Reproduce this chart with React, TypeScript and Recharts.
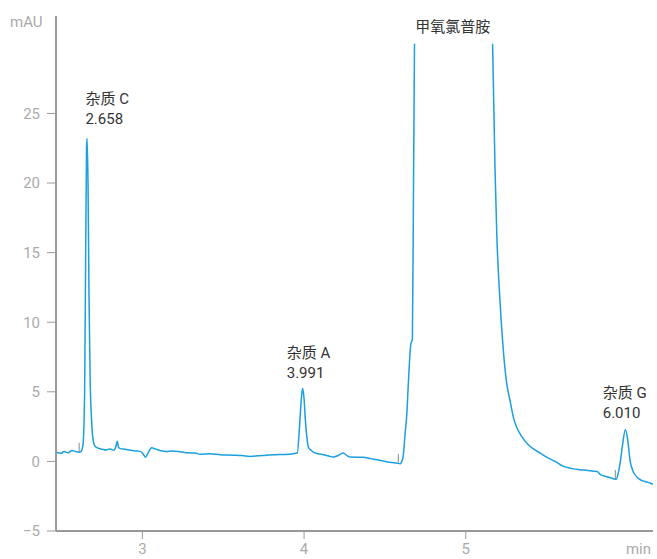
import React from "react";
import { LineChart, Line, XAxis, YAxis, ReferenceDot, ReferenceLine } from "recharts";

// retention time (min) and detector signal (mAU); null = off scale
const times = [
  2.466, 2.497, 2.516, 2.541, 2.565, 2.59, 2.609, 2.621, 2.633, 2.643, 2.649, 2.655, 2.658, 2.664, 2.67,
  2.677, 2.686, 2.695, 2.707, 2.726, 2.751, 2.776, 2.8, 2.825, 2.837, 2.845, 2.853, 2.868, 2.893, 2.924,
  2.955, 2.986, 3.004, 3.02, 3.035, 3.057, 3.079, 3.109, 3.147, 3.184, 3.233, 3.283, 3.326, 3.357, 3.419,
  3.481, 3.561, 3.617, 3.666, 3.716, 3.765, 3.821, 3.883, 3.932, 3.958, 3.972, 3.982, 3.991, 4.0, 4.008,
  4.017, 4.027, 4.043, 4.058, 4.087, 4.119, 4.148, 4.181, 4.21, 4.243, 4.266, 4.284, 4.328, 4.367, 4.408,
  4.45, 4.501, 4.544, 4.573, 4.594, 4.612, 4.625, 4.635, 4.645, 4.66, 4.67, 4.677, 4.683, 4.92, 5.166,
  5.181, 5.192, 5.212, 5.233, 5.254, 5.274, 5.294, 5.315, 5.336, 5.356, 5.387, 5.418, 5.46, 5.501, 5.552,
  5.604, 5.651, 5.707, 5.756, 5.789, 5.812, 5.831, 5.874, 5.913, 5.93, 5.942, 5.954, 5.97, 5.987, 6.001,
  6.016, 6.035, 6.058, 6.084, 6.119, 6.14, 6.158,
];
const signal = [
  0.66, 0.58, 0.72, 0.62, 0.78, 0.7, 0.66, 0.72, 1.2, 5.0, 14.0, 22.6, 23.2, 20.0, 12.0,
  6.0, 3.0, 1.6, 1.1, 0.95, 0.88, 0.82, 0.9, 0.8, 1.1, 1.45, 1.0, 0.9, 0.88, 0.8,
  0.75, 0.72, 0.55, 0.3, 0.6, 0.98, 0.9, 0.78, 0.71, 0.75, 0.7, 0.62, 0.6, 0.52, 0.55,
  0.48, 0.45, 0.42, 0.36, 0.4, 0.45, 0.48, 0.5, 0.55, 0.6, 2.5, 4.3, 5.25, 4.5, 3.0,
  1.8, 1.02, 0.8, 0.66, 0.55, 0.48, 0.4, 0.31, 0.42, 0.6, 0.42, 0.31, 0.3, 0.3, 0.2,
  0.12, 0.0, -0.08, -0.12, -0.17, 0.3, 2.0, 3.3, 5.6, 8.4, 8.8, 20.0, 30.0, null, 30.0,
  21.0, 16.3, 11.5, 7.9, 5.55, 4.36, 3.2, 2.45, 1.98, 1.62, 1.2, 0.9, 0.6, 0.31, 0.0,
  -0.36, -0.5, -0.6, -0.65, -0.71, -0.72, -0.93, -1.1, -1.24, -1.29, -0.9, -0.17, 1.2, 2.3, 1.6,
  0.07, -0.7, -1.12, -1.35, -1.48, -1.55, -1.64,
];

const xTicks = [3, 4, 5];
const yTicks = [-5, 0, 5, 10, 15, 20, 25];

const peakNames = ["杂质 C", "杂质 A", "甲氧氯普胺", "杂质 G"];
const peakTimes = ["2.658", "3.991", "", "6.010"];

// integration start marks
const cutTimes = [2.609, 4.583, 5.925];
const cutLow = [0.7, -0.09, -1.26];
const cutHigh = [1.34, 0.53, -0.62];

const data = times.map((t, i) => ({ t, v: signal[i] }));

// where each label's text sits (data units)
const labelSpots = [
  { x: 2.648, y: 24.24, anchor: "start" },
  { x: 3.893, y: 6.01, anchor: "start" },
  { x: 4.92, y: 30.85, anchor: "middle" },
  { x: 5.847, y: 3.1, anchor: "start" },
];

const fmtY = (v: number) => (v < 0 ? "\u2212" + Math.abs(v) : String(v));

function PeakLabel({ viewBox, name, time, anchor }: any) {
  const x = viewBox.x;
  const y = viewBox.y;
  return (
    <g>
      {time ? (
        <>
          <text x={x} y={y - 20} textAnchor={anchor} fontSize={15} fill="#333">
            {name}
          </text>
          <text x={x} y={y} textAnchor={anchor} fontSize={15} fill="#333">
            {time}
          </text>
        </>
      ) : (
        <text x={x} y={y} textAnchor={anchor} fontSize={15} fill="#333">
          {name}
        </text>
      )}
    </g>
  );
}

export default function App() {
  return (
    <div style={{ position: "absolute", left: 0, top: 0, fontFamily: "Roboto, 'Noto Sans CJK SC', sans-serif" }}>
      <LineChart width={657} height={559} data={data} margin={{ top: 16, right: 4, left: 0, bottom: 0 }}>
        <XAxis
          dataKey="t"
          type="number"
          domain={[2.466, 6.158]}
          ticks={xTicks}
          height={28}
          axisLine={{ stroke: "#999", strokeWidth: 2 }}
          tickLine={{ stroke: "#999" }}
          tickSize={8}
          tickMargin={4}
          tick={{ fill: "#aaa", fontSize: 15 }}
          label={{
            content: ({ viewBox }: any) => (
              <text x={viewBox.x + viewBox.width - 2} y={viewBox.y + 23} textAnchor="end" fontSize={15} fill="#aaa">
                min
              </text>
            ),
          }}
        />
        <YAxis
          type="number"
          domain={[-5, 32]}
          ticks={yTicks}
          width={56}
          axisLine={{ stroke: "#999", strokeWidth: 2 }}
          tickLine={{ stroke: "#999" }}
          tickSize={9}
          tickMargin={7}
          tickFormatter={fmtY}
          tick={{ fill: "#aaa", fontSize: 15 }}
          label={{
            content: ({ viewBox }: any) => (
              <text x={10} y={viewBox.y + 11} textAnchor="start" fontSize={15} fill="#aaa">
                mAU
              </text>
            ),
          }}
        />
        {cutTimes.map((t, i) => (
          <ReferenceLine
            key={"cut" + i}
            segment={[
              { x: t, y: cutLow[i] },
              { x: t, y: cutHigh[i] },
            ]}
            stroke="#888"
            strokeWidth={1}
          />
        ))}
        <Line
          type="monotone"
          dataKey="v"
          stroke="#1a9fe0"
          strokeWidth={1.5}
          dot={false}
          isAnimationActive={false}
          connectNulls={false}
        />
        {peakNames.map((name, i) => (
          <ReferenceDot
            key={"lbl" + i}
            x={labelSpots[i].x}
            y={labelSpots[i].y}
            r={0}
            fill="none"
            stroke="none"
            label={<PeakLabel name={name} time={peakTimes[i]} anchor={labelSpots[i].anchor} />}
          />
        ))}
      </LineChart>
    </div>
  );
}
